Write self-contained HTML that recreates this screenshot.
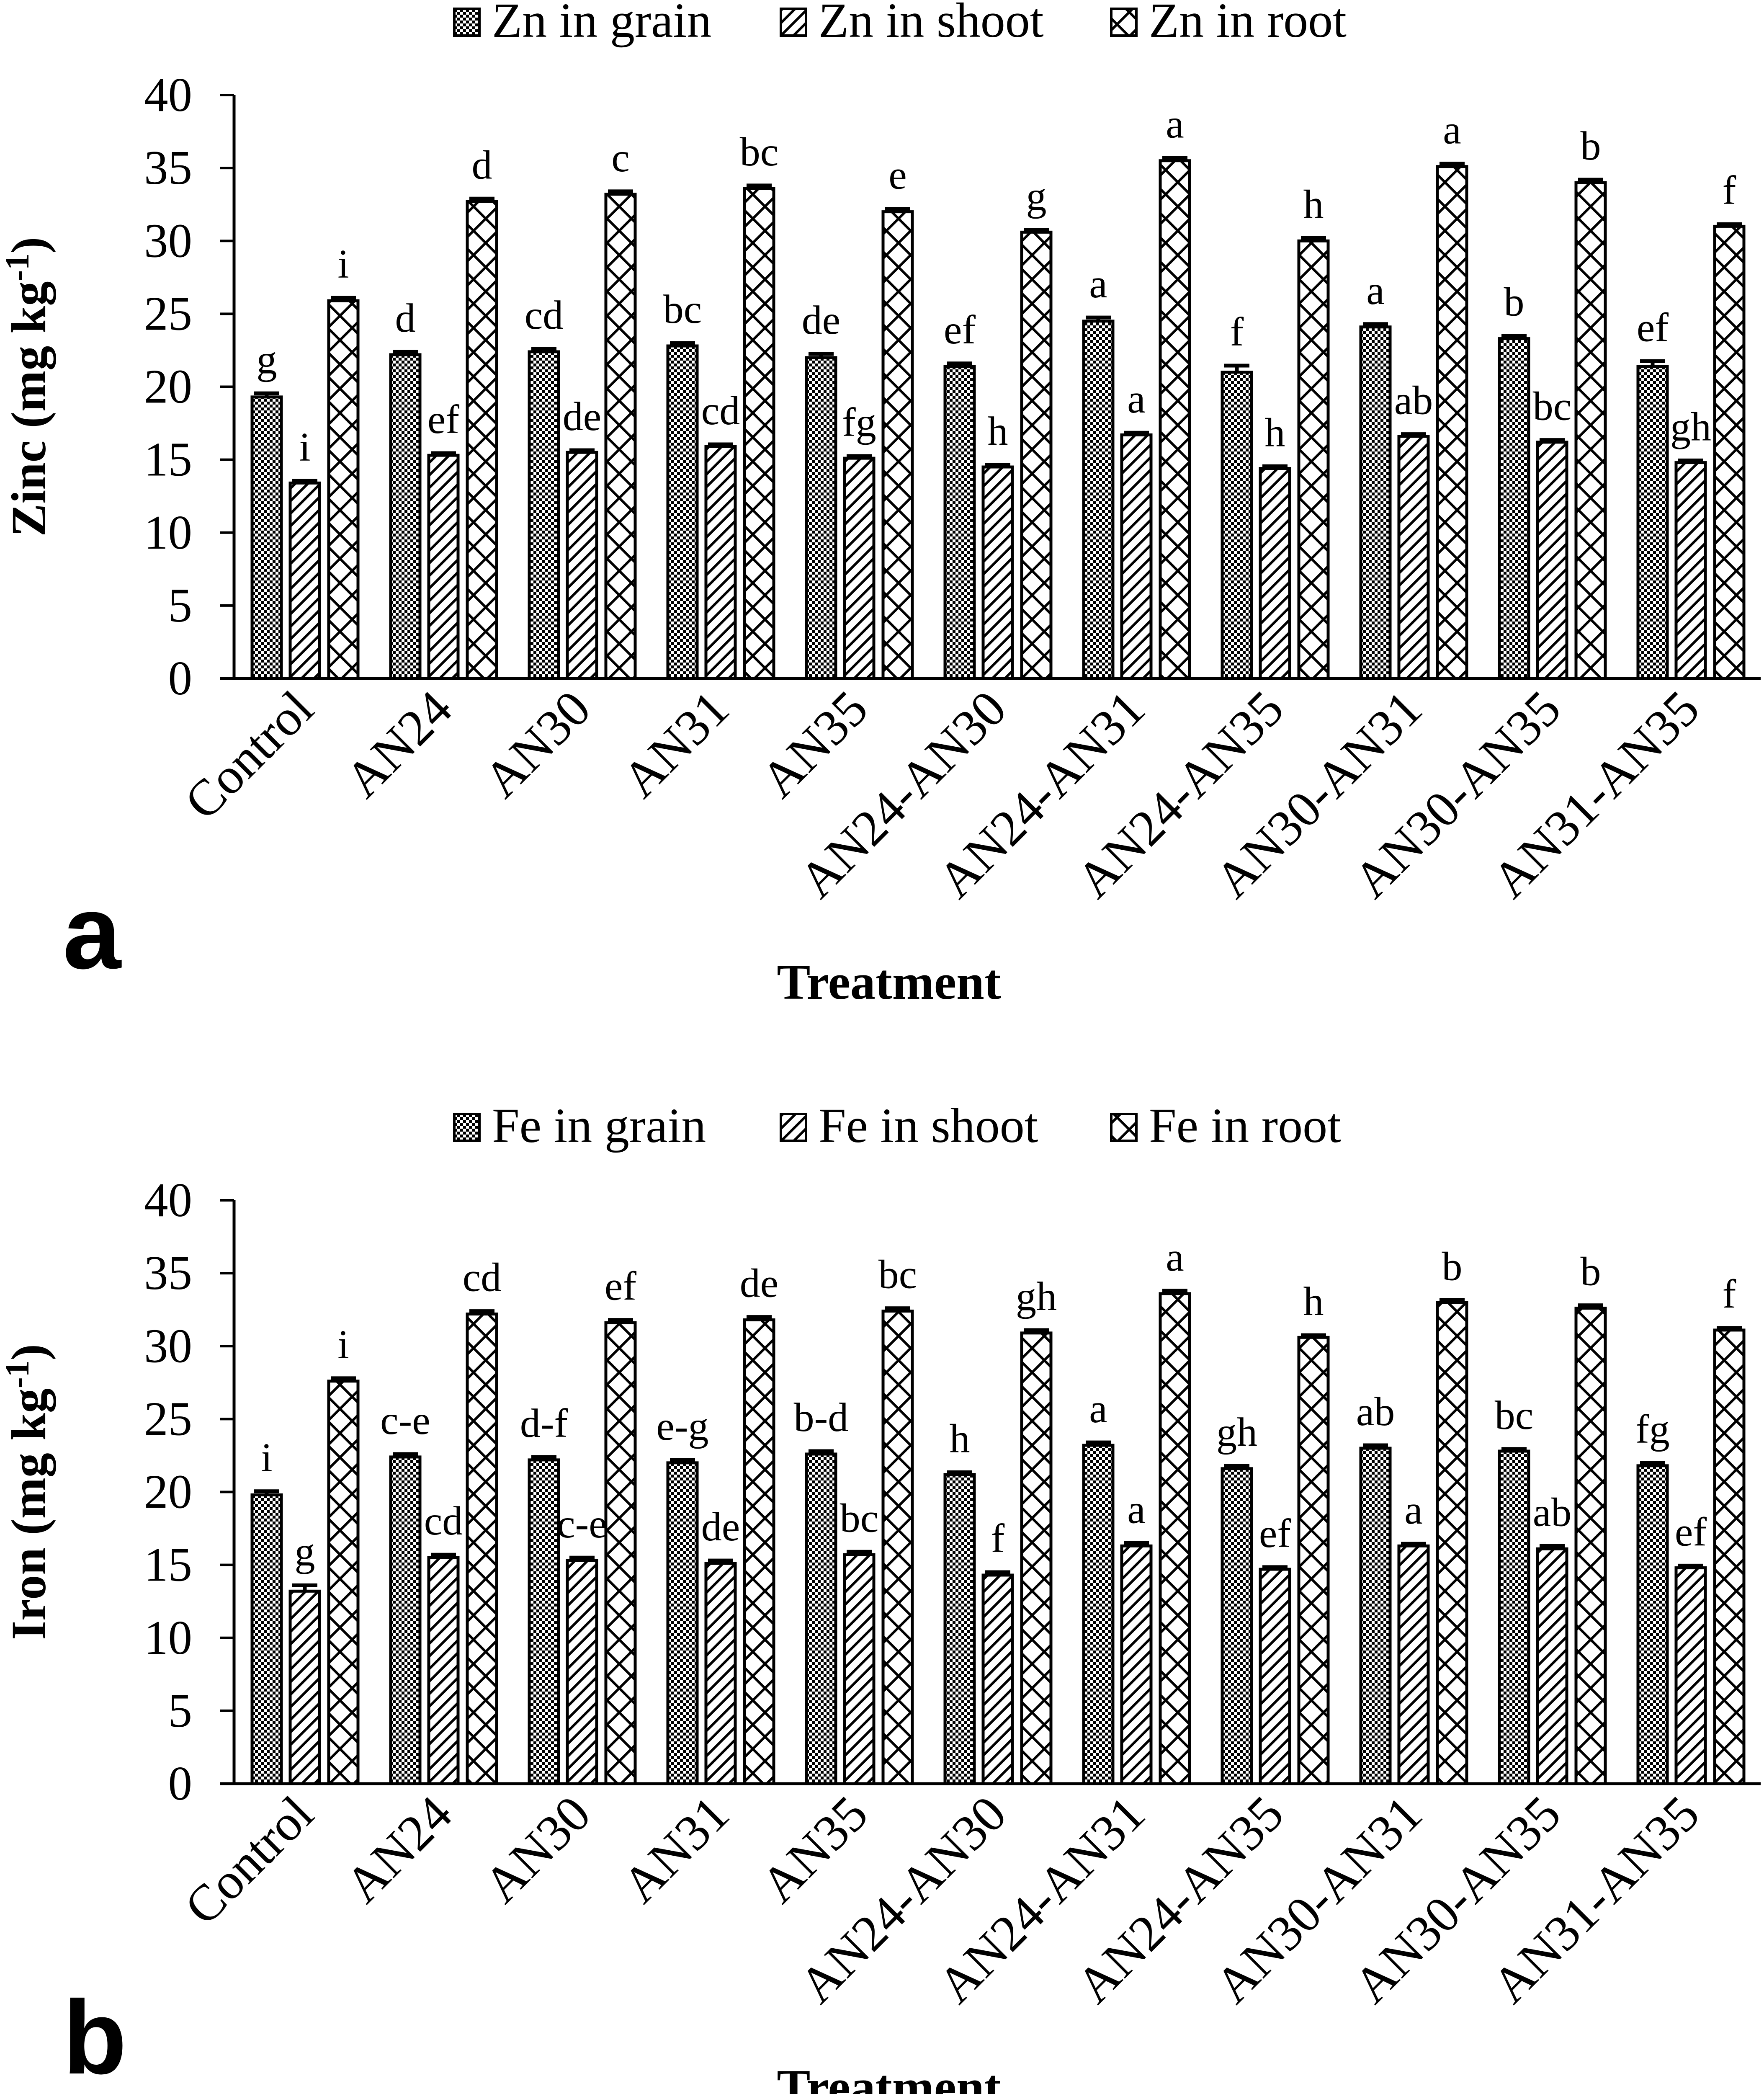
<!DOCTYPE html>
<html><head><meta charset="utf-8"><title>Zinc and Iron by treatment</title>
<style>html,body{margin:0;padding:0;background:#fff;overflow:hidden}svg{display:block}</style></head>
<body>
<svg id="chart" width="4213" height="5032" viewBox="0 0 4213 5032" xmlns="http://www.w3.org/2000/svg" font-family="'Liberation Serif', serif">
<defs>
<pattern id="pGrain" width="14" height="14" patternUnits="userSpaceOnUse">
<rect width="14" height="14" fill="#fff"/><rect x="0" y="0" width="7" height="7" fill="#000"/><rect x="7" y="7" width="7" height="7" fill="#000"/>
</pattern>
<pattern id="pShoot" width="30" height="30" patternUnits="userSpaceOnUse">
<rect width="30" height="30" fill="#fff"/><path d="M-5,35 L35,-5 M-20,20 L20,-20 M10,50 L50,10" stroke="#000" stroke-width="6"/>
</pattern>
<pattern id="pRoot" width="58" height="58" patternUnits="userSpaceOnUse">
<rect width="58" height="58" fill="#fff"/><path d="M0,0 L58,58 M58,0 L0,58" stroke="#000" stroke-width="6"/>
</pattern>
</defs>
<g id="panelA"></g>
<g id="panelB"></g>
</svg>
<script>
const categories = ["Control","AN24","AN30","AN31","AN35","AN24-AN30","AN24-AN31","AN24-AN35","AN30-AN31","AN30-AN35","AN31-AN35"];
const yTicks = [0,5,10,15,20,25,30,35,40];
const znGrain = [19.3,22.2,22.4,22.8,22.0,21.4,24.5,21.0,24.1,23.3,21.4];
const znShoot = [13.4,15.3,15.5,15.9,15.1,14.5,16.7,14.4,16.6,16.2,14.8];
const znRoot  = [25.9,32.7,33.2,33.6,32.0,30.6,35.5,30.0,35.1,34.0,31.0];
const znGrainErr = [0.25,0.2,0.2,0.2,0.25,0.2,0.25,0.45,0.2,0.2,0.35];
const znShootErr = [0.15,0.15,0.15,0.15,0.15,0.15,0.15,0.15,0.15,0.15,0.15];
const znRootErr  = [0.2,0.2,0.2,0.2,0.2,0.15,0.2,0.2,0.2,0.2,0.15];
const znGrainLbl = ["g","d","cd","bc","de","ef","a","f","a","b","ef"];
const znShootLbl = ["i","ef","de","cd","fg","h","a","h","ab","bc","gh"];
const znRootLbl  = ["i","d","c","bc","e","g","a","h","a","b","f"];
const feGrain = [19.8,22.4,22.2,22.0,22.6,21.2,23.2,21.6,23.0,22.8,21.8];
const feShoot = [13.2,15.5,15.3,15.1,15.7,14.3,16.3,14.7,16.3,16.1,14.8];
const feRoot  = [27.6,32.2,31.6,31.8,32.4,30.9,33.6,30.6,33.0,32.6,31.1];
const feGrainErr = [0.25,0.2,0.2,0.2,0.2,0.15,0.2,0.2,0.2,0.15,0.2];
const feShootErr = [0.4,0.2,0.2,0.2,0.2,0.2,0.2,0.15,0.15,0.2,0.15];
const feRootErr  = [0.2,0.2,0.2,0.2,0.2,0.2,0.2,0.15,0.15,0.2,0.15];
const feGrainLbl = ["i","c-e","d-f","e-g","b-d","h","a","gh","ab","bc","fg"];
const feShootLbl = ["g","cd","c-e","de","bc","f","a","ef","a","ab","ef"];
const feRootLbl  = ["i","cd","ef","de","bc","gh","a","h","b","b","f"];

const NS = "http://www.w3.org/2000/svg";
function mk(tag, attrs, parent, text){
  const e = document.createElementNS(NS, tag);
  for (const k in attrs) e.setAttribute(k, attrs[k]);
  if (text !== undefined) e.textContent = text;
  parent.appendChild(e);
  return e;
}
const AX = 559, AXEND = 4205, PITCH = 331, C0 = 728, BW = 70, BOFF = [-91, 0, 92];
function xCenter(i){ return C0 + i*PITCH; }

function drawPanel(g, y0, y40, prefix, series, errs, lbls, names, ytitle, letter){
  const yScale = v => y0 - (v/40)*(y0-y40);
  const ya = mk("line",{x1:AX,y1:y40,x2:AX,y2:y0,stroke:"#000","stroke-width":7},g);
  
  
  const xa = mk("line",{x1:526,y1:y0,x2:AXEND,y2:y0,stroke:"#000","stroke-width":7},g);
  
  
  yTicks.forEach(t=>{
    const y = yScale(t);
    const tk = mk("line",{x1:526,y1:y,x2:AX,y2:y,stroke:"#000","stroke-width":6},g);
    
    
    const tl = mk("text",{x:459,y:y+38,"text-anchor":"end","font-size":115},g,String(t));
    
    
  });
  const fills = ["url(#pGrain)","url(#pShoot)","url(#pRoot)"];
  series.forEach((vals,s)=>{
    vals.forEach((v,i)=>{
      const x = xCenter(i)+BOFF[s]-BW/2;
      const top = yScale(v);
      const r = mk("rect",{x:x,y:top,width:BW,height:y0-top,fill:fills[s],stroke:"#000","stroke-width":7},g);
      
      
      const eTop = yScale(v+errs[s][i]);
      const cx = xCenter(i)+BOFF[s];
      const eb = mk("path",{d:`M${cx},${top} L${cx},${eTop} M${cx-30},${eTop} L${cx+30},${eTop}`,stroke:"#000","stroke-width":9,fill:"none"},g);
      
      
      const lb = mk("text",{x:cx,y:eTop-48,"text-anchor":"middle","font-size":98},g,lbls[s][i]);
      
      
    });
  });
  categories.forEach((c,i)=>{
    const ax = xCenter(i)+27, ay = y0+80;
    const t = mk("text",{x:ax,y:ay,"text-anchor":"end","font-size":122,transform:`rotate(-45 ${ax} ${ay})`},g,c);
    
    
  });
  const xt = mk("text",{x:2123,y:y0+765,"text-anchor":"middle","font-size":120,"font-weight":"bold"},g,"Treatment");
  
  
  const cy = (y0+y40)/2;
  const yt = mk("text",{x:108,y:cy,"text-anchor":"middle","font-size":118,"font-weight":"bold",transform:`rotate(-90 108 ${cy})`},g);
  
  
  mk("tspan",{},yt,ytitle+" (mg kg");
  mk("tspan",{dy:-40,"font-size":80},yt,"-1");
  mk("tspan",{dy:40},yt,")");
  const pl = mk("text",{x:150,y:y0+692,"font-size":250,"font-weight":"bold","font-family":"'Liberation Sans', sans-serif"},g,letter);
  
  
  const lx = [1085,1865,2654];
  const ly = y40 - 227 + 21;
  names.forEach((n,s)=>{
    const b = mk("rect",{x:lx[s],y:ly,width:60,height:64,fill:fills[s],stroke:"#000","stroke-width":6},g);
    
    
    const t = mk("text",{x:lx[s]+90,y:ly+67,"font-size":118},g,(prefix==="zn"?"Zn":"Fe")+" in "+n);
    
    
  });
}
drawPanel(document.getElementById('panelA'),1620,227,"zn",[znGrain,znShoot,znRoot],[znGrainErr,znShootErr,znRootErr],[znGrainLbl,znShootLbl,znRootLbl],["grain","shoot","root"],"Zinc","a");
drawPanel(document.getElementById('panelB'),4259,2866,"fe",[feGrain,feShoot,feRoot],[feGrainErr,feShootErr,feRootErr],[feGrainLbl,feShootLbl,feRootLbl],["grain","shoot","root"],"Iron","b");
</script>
</body></html>
